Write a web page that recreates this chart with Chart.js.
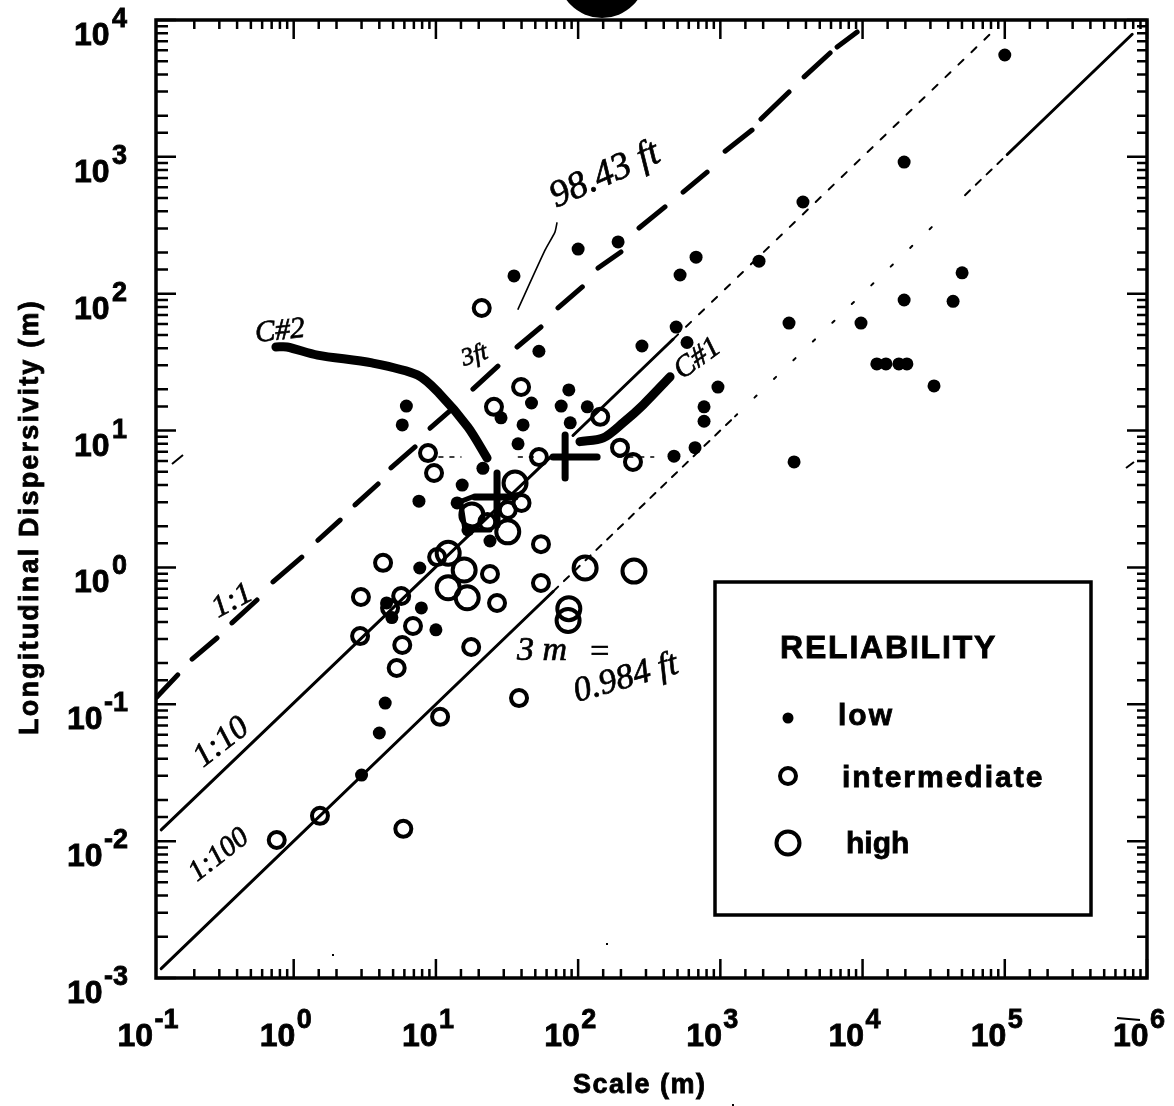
<!DOCTYPE html>
<html>
<head>
<meta charset="utf-8">
<style>
  html, body { margin: 0; padding: 0; background: #fff; }
  canvas { display: block; }
</style>
<script src="https://cdn.jsdelivr.net/npm/chart.js@4"></script>
</head>
<body>
<canvas id="chart1" width="1174" height="1106"></canvas>
<script>
// values
var xTickValues = [0.1, 1, 10, 100, 1000, 10000, 100000, 1000000];
var xTickExps = ["-1", "0", "1", "2", "3", "4", "5", "6"];
var yTickValues = [10000, 1000, 100, 10, 1, 0.1, 0.01, 0.001];
var yTickExps = ["4", "3", "2", "1", "0", "-1", "-2", "-3"];

var lowX = [100000, 19600, 3810, 1870, 50100, 19600, 43300, 9750, 3040, 12600, 14600, 18000, 20500, 31800, 3300, 962, 768, 768, 664, 472, 675, 521, 489, 583, 281, 191, 100, 35.4, 53, 86, 47, 76, 116, 88, 41, 28.7, 6.2, 5.8, 37.8, 21.4, 15.3, 7.6, 14.1, 16.8, 24, 7.7, 7.9, 10, 4.4, 4, 3, 4.5, 4.9];
var lowY = [5550, 916, 468, 173, 142, 90, 88, 61, 61, 30.7, 30.7, 30.7, 30.7, 21.2, 5.9, 20.8, 14.9, 11.7, 7.5, 6.5, 185, 137, 57, 44, 41.5, 239, 212, 135, 38, 19.8, 15.9, 15.1, 14.9, 11.4, 11, 12.4, 15.1, 11, 8, 5.3, 4, 3.05, 2.96, 1.88, 1.56, 0.99, 0.506, 0.35, 0.102, 0.0617, 0.0304, 0.55, 0.43];

var interX = [4.25, 2.97, 5.7, 4.76, 2.93, 6.9, 5.8, 5.3, 10.7, 5.9, 1.53, 0.76, 17.7, 38.4, 26.9, 24, 54.8, 54.8, 39.7, 25.6, 8.8, 9.7, 53, 143, 197, 243, 21, 32, 40, 23, 10.2];
var interY = [1.08, 0.608, 0.618, 0.506, 0.315, 0.373, 0.271, 0.184, 0.081, 0.0123, 0.0153, 0.0102, 0.262, 0.111, 0.55, 0.895, 1.48, 0.77, 20.8, 14.9, 6.85, 4.9, 6.4, 12.6, 7.5, 5.9, 78.7, 2.63, 2.96, 2.15, 1.19];

var highX = [36, 17.9, 32, 247, 112, 86, 85, 15.8, 12.2, 16.6, 12.2];
var highY = [4.14, 2.42, 1.82, 0.94, 0.99, 0.5, 0.41, 0.957, 0.71, 0.6, 1.27];

// reference lines, null = gap in the printed line
var ratio1X = [0.109, 0.153, null, 0.193, 0.289, null, 0.368, 0.552, null, 0.715, 1.14, null, 1.48, 2.12, null, 2.7, 3.92, null, 4.83, 7.13, null, 9.1, 13.2, null, 18.2, 27.3, null, 37.2, 54.8, null, 72.2, 107, null, 138, 200, null, 268, 408, null, 547, 807, null, 1080, 1670, null, 1930, 3040, null, 3880, 5910, null, 6620, 9160];
var ratio1Y = [0.113, 0.164, null, 0.214, 0.305, null, 0.393, 0.578, null, 0.783, 1.19, null, 1.58, 2.22, null, 2.86, 4.07, null, 5.33, 7.59, null, 10.4, 14.6, null, 20.1, 29.6, null, 40.8, 57.1, null, 78.7, 112, null, 154, 202, null, 302, 431, null, 553, 774, null, 1100, 1570, null, 1890, 2980, null, 3840, 5740, null, 6350, 8170];

var ratio10SolidX = [0.117, 65, null, 92, 465];
var ratio10SolidY = [0.0121, 6.5, null, 9.2, 46.5];
var ratio10BrokenX = [465, 78900];
var ratio10BrokenY = [46.5, 7890];

var ratio100SolidX = [0.117, 66.7, null, 104000, 787000];
var ratio100SolidY = [0.00117, 0.667, null, 1040, 7870];
var ratio100BrokenX = [66.7, 1268, null, 52500, 104000];
var ratio100BrokenY = [0.667, 12.7, null, 525, 1040];
var ratio100SparseX = [1268, 33000];
var ratio100SparseY = [12.7, 330];

// hand drawn pen marks on the copy
var curve2X = [0.75, 0.897, 1.47, 3.55, 7.4, 10.5, 16.8, 22.9];
var curve2Y = [40.8, 40.8, 35.6, 31.2, 25.5, 18.8, 10.6, 6.3];
var curve1X = [103, 150, 207, 286, 443];
var curve1Y = [8.3, 8.83, 11.4, 15.4, 24.7];
var crossX = [26.9, 26.9, null, 18.8, 36, null, 81, 81, null, 66.6, 136];
var crossY = [4.9, 2.04, null, 3.27, 3.27, null, 9.3, 4.5, null, 6.4, 6.4];
var clusterX = [14.1, 18, 27, null, 16, 24, null, 15, 16];
var clusterY = [2.96, 3.27, 3.27, null, 1.88, 1.88, null, 2.9, 1.88];
var leaderX = [37.8, 58.5, 68.7, 71];
var leaderY = [77.2, 208, 282, 329];
var dottedX = [10.5, 15, null, 38, 50, null, 190, 340];
var dottedY = [6.4, 6.4, null, 6.4, 6.4, null, 6.4, 6.4];

function pairs(xs, ys) {
    return xs.map(function(x, i) { return { x: x, y: ys[i] }; });
}

function lineSet(label, xs, ys, width, dash, tension) {
    return {
        label: label,
        data: pairs(xs, ys),
        showLine: true,
        borderColor: "#000",
        borderWidth: width,
        borderDash: dash || [],
        borderCapStyle: "round",
        tension: tension || 0,
        pointRadius: 0,
        spanGaps: false
    };
}

function pointSet(label, xs, ys, radius, border, fill) {
    return {
        label: label,
        data: pairs(xs, ys),
        showLine: false,
        pointRadius: radius,
        borderWidth: border,
        borderColor: "#000",
        backgroundColor: fill
    };
}

var notes = [
    { t: "98.43 ft", x: 556, y: 208, r: -24, s: 38 },
    { t: "C#2", x: 256, y: 342, r: -6, s: 30 },
    { t: "C#1", x: 682, y: 380, r: -36, s: 30 },
    { t: "3ft", x: 464, y: 366, r: -18, s: 25 },
    { t: "1:1", x: 218, y: 618, r: -28, s: 31 },
    { t: "1:10", x: 203, y: 768, r: -38, s: 33 },
    { t: "1:100", x: 197, y: 882, r: -38, s: 29 },
    { t: "3 m", x: 517, y: 660, r: 0, s: 34 },
    { t: "=", x: 588, y: 662, r: 0, s: 34 },
    { t: "0.984 ft", x: 577, y: 702, r: -16, s: 35 }
];

function boldText(ctx, text, x, y, size, spacing) {
    ctx.font = "bold " + size + "px 'Liberation Sans'";
    ctx.letterSpacing = (spacing || 0) + "px";
    ctx.lineWidth = 0.8;
    ctx.fillText(text, x, y);
    ctx.strokeText(text, x, y);
    ctx.letterSpacing = "0px";
}

function isMajor(v) {
    var l = Math.log10(v);
    return Math.abs(l - Math.round(l)) < 1e-6;
}

var figurePlugin = {
    id: "figure",
    afterDatasetsDraw: function(chart) {
        var ctx = chart.ctx, a = chart.chartArea, xs = chart.scales.x, ys = chart.scales.y;
        ctx.save();
        ctx.strokeStyle = "#000";
        ctx.fillStyle = "#000";
        ctx.textAlign = "left";
        ctx.textBaseline = "alphabetic";

        // frame
        ctx.lineWidth = 3.5;
        ctx.strokeRect(a.left, a.top, a.right - a.left, a.bottom - a.top);

        // inward ticks on all four sides
        ctx.lineWidth = 2.5;
        xs.ticks.forEach(function(t) {
            var p = xs.getPixelForValue(t.value);
            if (p <= a.left + 1) return;
            var len = isMajor(t.value) ? 19 : 9;
            ctx.beginPath();
            ctx.moveTo(p, a.bottom); ctx.lineTo(p, a.bottom - len);
            ctx.moveTo(p, a.top); ctx.lineTo(p, a.top + len);
            ctx.stroke();
        });
        ys.ticks.forEach(function(t) {
            var p = ys.getPixelForValue(t.value);
            var major = isMajor(t.value);
            ctx.beginPath();
            ctx.moveTo(a.left, p); ctx.lineTo(a.left + (major ? 20 : 12), p);
            ctx.moveTo(a.right, p); ctx.lineTo(a.right - (major ? 20 : 10), p);
            ctx.stroke();
        });

        // tick labels with raised exponents
        xTickValues.forEach(function(v, i) {
            var p = v === 0.1 ? 151.5 : xs.getPixelForValue(v);
            boldText(ctx, "10", p - 34, 1046, 32);
            boldText(ctx, xTickExps[i], p + 3, 1028, 27);
        });
        yTickValues.forEach(function(v, i) {
            var p = ys.getPixelForValue(v);
            var neg = yTickExps[i].charAt(0) === "-";
            boldText(ctx, "10", neg ? 67 : 74, p + 25, 32);
            boldText(ctx, yTickExps[i], neg ? 104 : 112, p + 7, 27);
        });

        // axis titles
        boldText(ctx, "Scale (m)", 573, 1093, 27, 1.5);
        ctx.save();
        ctx.translate(38, 735);
        ctx.rotate(-Math.PI / 2);
        boldText(ctx, "Longitudinal Dispersivity (m)", 0, 0, 27, 2.2);
        ctx.restore();

        // legend box
        ctx.lineWidth = 3.5;
        ctx.strokeRect(715, 582, 376, 333);
        boldText(ctx, "RELIABILITY", 780, 658, 32, 1.8);
        boldText(ctx, "low", 838, 725, 30, 2);
        boldText(ctx, "intermediate", 842, 787, 30, 2);
        boldText(ctx, "high", 846, 853, 30, 0);
        ctx.beginPath(); ctx.arc(788, 718, 5.5, 0, Math.PI * 2); ctx.fill();
        ctx.lineWidth = 4;
        ctx.beginPath(); ctx.arc(788, 776, 8, 0, Math.PI * 2); ctx.stroke();
        ctx.beginPath(); ctx.arc(788, 843, 11.5, 0, Math.PI * 2); ctx.stroke();

        // handwriting
        notes.forEach(function(n) {
            ctx.save();
            ctx.translate(n.x, n.y);
            ctx.rotate(n.r * Math.PI / 180);
            ctx.font = "italic " + n.s + "px 'Liberation Serif'";
            ctx.lineWidth = 0.7;
            ctx.fillText(n.t, 0, 0);
            ctx.strokeText(n.t, 0, 0);
            ctx.restore();
        });

        // punch hole at the top of the page and copy specks
        ctx.beginPath(); ctx.arc(602, -26, 44, 0, Math.PI * 2); ctx.fill();
        ctx.lineWidth = 2;
        ctx.beginPath();
        ctx.moveTo(1117, 1018); ctx.lineTo(1140, 1020);
        ctx.moveTo(172, 464); ctx.lineTo(183, 455);
        ctx.moveTo(1126, 468); ctx.lineTo(1134, 462);
        ctx.stroke();
        [[332, 954], [606, 943], [732, 1104]].forEach(function(s) {
            ctx.fillRect(s[0], s[1], 2, 2);
        });
        ctx.restore();
    }
};

var ctx1 = document.getElementById("chart1").getContext("2d");
var chart1 = new Chart(ctx1, {
    type: "scatter",
    data: {
        datasets: [
            lineSet("1:1", ratio1X, ratio1Y, 5),
            lineSet("1:10", ratio10SolidX, ratio10SolidY, 3),
            lineSet("1:10 faded", ratio10BrokenX, ratio10BrokenY, 2, [7, 11]),
            lineSet("1:100", ratio100SolidX, ratio100SolidY, 3),
            lineSet("1:100 faded", ratio100BrokenX, ratio100BrokenY, 2, [7, 8]),
            lineSet("1:100 sparse", ratio100SparseX, ratio100SparseY, 2, [3, 24]),
            lineSet("C#2", curve2X, curve2Y, 9, null, 0.3),
            lineSet("C#1", curve1X, curve1Y, 9, null, 0.3),
            lineSet("crosses", crossX, crossY, 7),
            lineSet("cluster smear", clusterX, clusterY, 5),
            lineSet("98.43 ft leader", leaderX, leaderY, 1.6, null, 0.2),
            lineSet("pen dots", dottedX, dottedY, 1.5, [4, 7]),
            pointSet("low", lowX, lowY, 6.5, 0, "#000"),
            pointSet("intermediate", interX, interY, 8, 4, "transparent"),
            pointSet("high", highX, highY, 11.5, 4, "transparent")
        ]
    },
    options: {
        responsive: false,
        animation: false,
        layout: { padding: { left: 156, right: 27, top: 20, bottom: 128 } },
        plugins: { legend: { display: false }, tooltip: { enabled: false } },
        scales: {
            x: {
                type: "logarithmic",
                min: 0.1076,
                max: 1000000,
                ticks: { display: false },
                grid: { display: false },
                border: { display: false },
                afterFit: function(s) { s.height = 0; }
            },
            y: {
                type: "logarithmic",
                min: 0.001,
                max: 10000,
                ticks: { display: false },
                grid: { display: false },
                border: { display: false },
                afterFit: function(s) { s.width = 0; }
            }
        }
    },
    plugins: [figurePlugin]
});
</script>
</body>
</html>
